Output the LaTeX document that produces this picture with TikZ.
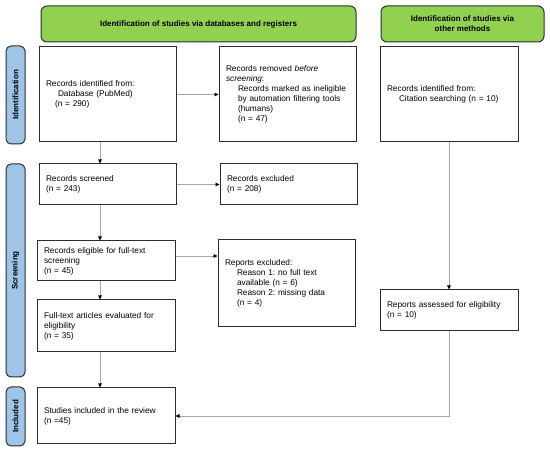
\documentclass[tikz,border=0pt]{standalone}
\usepackage{fontspec}
\setmainfont{Liberation Sans}
\usetikzlibrary{arrows.meta,positioning,calc}
\definecolor{prismaGreen}{RGB}{146,208,80}
\definecolor{prismaBlue}{RGB}{160,196,232}
\definecolor{prismaLine}{RGB}{45,45,45}
\frenchspacing

\begin{document}
\begin{tikzpicture}[x=1pt,y=-1pt,
    box/.style={draw=prismaLine,line width=1pt,fill=white,align=left,
                inner xsep=7pt,font=\fontsize{8.3}{10}\selectfont},
    hdr/.style={draw=prismaLine,line width=1pt,fill=prismaGreen,rounded corners=6pt,
                align=center,font=\fontsize{8}{10}\selectfont\bfseries},
    phase/.style={draw=prismaLine,line width=1pt,fill=prismaBlue,rounded corners=5pt,
                  rotate=90,minimum height=19pt,inner sep=0pt,
                  font=\fontsize{8}{10}\selectfont\bfseries},
    arr/.style={draw=gray!70,line width=0.8pt,
                -{Triangle[length=4pt,width=3.6pt,color=black]}}]

    \useasboundingbox (0,0) rectangle (550,454);

    % Headers
    \node[hdr,minimum width=315pt,minimum height=36pt] (hdrDb) at (198.5,24)
      {Identification of studies via databases and registers};
    \node[hdr,minimum width=163pt,minimum height=36pt] (hdrOther) at (462.5,24)
      {Identification of studies via\\other methods};

    % Phases
    \node[phase,minimum width=98pt] (phId) at (15.5,95) {Identification};
    \node[phase,minimum width=213pt] (phScr) at (15.5,270.5) {Screening};
    \node[phase,minimum width=59pt] (phInc) at (15.5,416.5) {Included};

    % Identification
    \node[box,text width=123pt,minimum height=95pt] (idDb) at (107.5,94.5)
      {Records identified from:\\
       \hspace*{12pt}Database (PubMed)\\
       \hspace*{9pt}(n = 290)};
    \node[box,text width=123pt,minimum height=95pt] (idRem) at (287.5,94.5)
      {Records removed \emph{before}\\
       \emph{screening}:\\
       \hspace*{12pt}Records marked as ineligible\\
       \hspace*{12pt}by automation filtering tools\\
       \hspace*{12pt}(humans)\\
       \hspace*{12pt}(n = 47)};
    \node[box,text width=124pt,minimum height=95pt] (idCit) at (449,94.5)
      {Records identified from:\\
       \hspace*{12pt}Citation searching (n = 10)};

    % Screening
    \node[box,text width=123pt,minimum height=41pt] (scr) at (107.5,184.5)
      {Records screened\\(n = 243)};
    \node[box,text width=123pt,minimum height=41pt] (excl) at (288.5,184.5)
      {Records excluded\\(n = 208)};
    \node[box,text width=124pt,minimum height=40pt] (elig) at (106,261)
      {Records eligible for full-text\\screening\\(n = 45)};
    \node[box,text width=123pt,minimum height=87pt] (rexcl) at (286.5,283.5)
      {Reports excluded:\\
       \hspace*{12pt}Reason 1: no full text\\
       \hspace*{12pt}available (n = 6)\\
       \hspace*{12pt}Reason 2: missing data\\
       \hspace*{12pt}(n = 4)};
    \node[box,text width=124pt,minimum height=52pt] (full) at (106,326)
      {Full-text articles evaluated for\\eligibility\\(n = 35)};
    \node[box,text width=124pt,minimum height=41pt] (assess) at (449,310.5)
      {Reports assessed for eligibility\\(n = 10)};

    % Included
    \node[box,text width=124pt,minimum height=56pt] (incl) at (106,416)
      {Studies included in the review\\(n =45)};

    % Connectors
    \coordinate (col) at (100,0);
    \draw[arr] (idDb.south -| col) -- (scr.north -| col);
    \draw[arr] (idDb.east) -- (idRem.west);
    \draw[arr] (scr.east) -- (excl.west);
    \draw[arr] (scr.south -| col) -- (elig.north -| col);
    \draw[arr] ([yshift=5pt]elig.east) -- ([yshift=5pt]elig.east -| rexcl.west);
    \draw[arr] (elig.south -| col) -- (full.north -| col);
    \draw[arr] (full.south -| col) -- (incl.north -| col);
    \draw[arr] (idCit.south) -- (assess.north);
    \draw[arr] (assess.south) |- (incl.east);
\end{tikzpicture}
\end{document}
